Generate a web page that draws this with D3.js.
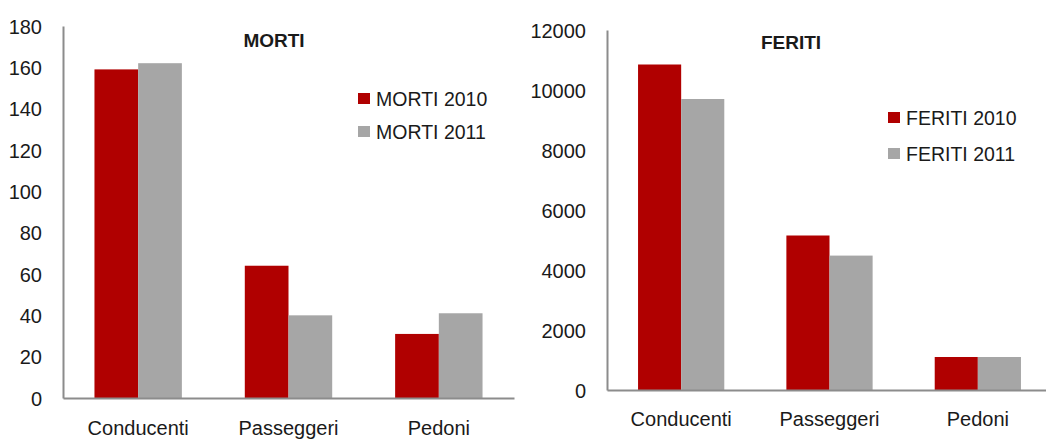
<!DOCTYPE html>
<html>
<head>
<meta charset="utf-8">
<script src="https://cdn.jsdelivr.net/npm/d3@7"></script>
<style>
  body { margin: 0; background: #fff; }
  svg text { font-family: "Liberation Sans", Arial, sans-serif; fill: #1a1a1a; }
</style>
</head>
<body>
<div id="chart"></div>
<script>
// data
var categories = ["Conducenti", "Passeggeri", "Pedoni"];
var years = ["2010", "2011"];
var morti2010 = [159, 64, 31];
var morti2011 = [162, 40, 41];
var feriti2010 = [10850, 5150, 1100];
var feriti2011 = [9700, 4480, 1100];
var mortiTicks = [0, 20, 40, 60, 80, 100, 120, 140, 160, 180];
var feritiTicks = [0, 2000, 4000, 6000, 8000, 10000, 12000];

var colors = ["#b00000", "#a6a6a6"];

var svg = d3.select("#chart")
    .append("svg")
    .attr("width", 1046)
    .attr("height", 439);

function drawPanel(opt) {
    var g = svg.append("g");

    var x = d3.scaleBand()
        .domain(categories)
        .range([opt.left, opt.right])
        .paddingInner(0)
        .paddingOuter(0);

    // two bars per group, white space around each pair
    var xs = d3.scaleBand()
        .domain(years)
        .range([0, x.bandwidth()])
        .paddingInner(0)
        .paddingOuter(0.72);

    var y = d3.scaleLinear()
        .domain([0, opt.max])
        .range([opt.bottom, opt.top]);

    var rows = categories.map(function (c, i) {
        return { cat: c, vals: [opt.s2010[i], opt.s2011[i]] };
    });

    // bars
    var grp = g.selectAll(".grp")
        .data(rows)
        .enter()
        .append("g")
        .attr("transform", function (d) { return "translate(" + x(d.cat) + ",0)"; });

    grp.selectAll("rect")
        .data(function (d) { return d.vals.map(function (v, j) { return { yr: years[j], v: v, j: j }; }); })
        .enter()
        .append("rect")
        .attr("x", function (d) { return xs(d.yr); })
        .attr("width", xs.bandwidth())
        .attr("y", function (d) { return y(d.v); })
        .attr("height", function (d) { return opt.bottom - y(d.v); })
        .style("fill", function (d) { return colors[d.j]; });

    // y axis
    var yAxis = g.append("g")
        .attr("transform", "translate(" + opt.left + ",0)")
        .call(d3.axisLeft(y).tickValues(opt.ticks).tickFormat(d3.format("d"))
            .tickSize(0).tickPadding(opt.tickPad));
    yAxis.select(".domain").attr("stroke", "#8c8c8c").attr("stroke-width", 2);
    yAxis.selectAll("text")
        .style("font-size", "20px")
        .attr("dy", "0.36em")
        .attr("fill", "#1a1a1a");

    // x axis
    var xAxis = g.append("g")
        .attr("transform", "translate(0," + opt.bottom + ")")
        .call(d3.axisBottom(x).tickSize(0).tickPadding(opt.catPad));
    xAxis.select(".domain").attr("stroke", "#8c8c8c").attr("stroke-width", 2);
    xAxis.selectAll("text")
        .style("font-size", "20px")
        .attr("fill", "#1a1a1a");

    // title
    g.append("text")
        .attr("x", opt.titleX)
        .attr("y", opt.titleY)
        .attr("text-anchor", "middle")
        .style("font-size", "19px")
        .style("font-weight", "bold")
        .text(opt.title);

    // legend
    var leg = g.selectAll(".leg")
        .data(years)
        .enter()
        .append("g")
        .attr("transform", function (d, i) {
            return "translate(" + opt.legX + "," + (opt.legY + i * opt.legGap) + ")";
        });
    leg.append("rect")
        .attr("x", 0)
        .attr("y", -13)
        .attr("width", 12)
        .attr("height", 11)
        .style("fill", function (d, i) { return colors[i]; });
    leg.append("text")
        .attr("x", 18)
        .attr("y", 0)
        .style("font-size", "19.5px")
        .text(function (d) { return opt.title + " " + d; });
}

drawPanel({
    title: "MORTI", s2010: morti2010, s2011: morti2011, ticks: mortiTicks, max: 180,
    left: 63, right: 514, top: 26, bottom: 398, tickPad: 21, catPad: 23,
    titleX: 274, titleY: 47, legX: 358, legY: 106, legGap: 33
});

drawPanel({
    title: "FERITI", s2010: feriti2010, s2011: feriti2011, ticks: feritiTicks, max: 12000,
    left: 607, right: 1052, top: 30, bottom: 390, tickPad: 21, catPad: 22,
    titleX: 791, titleY: 49, legX: 888, legY: 125, legGap: 36
});
</script>
</body>
</html>
